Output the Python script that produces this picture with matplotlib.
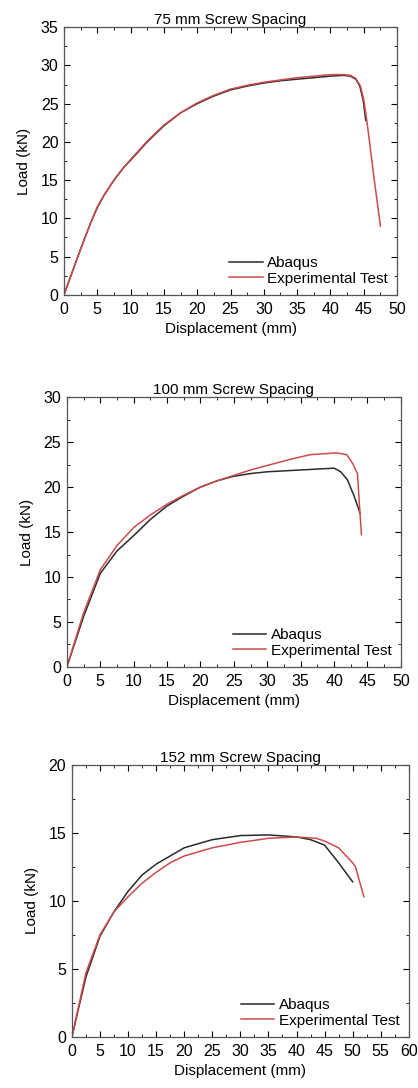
import matplotlib
matplotlib.use("Agg")
import matplotlib.pyplot as plt
from matplotlib.ticker import MultipleLocator

plt.rcParams["font.family"] = ["Liberation Sans", "DejaVu Sans"]

ABAQUS_COLOR = "#2a2a2a"
EXP_COLOR = "#cc4b4b"

# 75 mm screw spacing
abaqus_75_x = [0, 1, 2.5, 4, 5, 6, 7.5, 9, 10, 12.5, 15, 17.5, 20, 22.5, 25, 27.5, 30, 32.5, 35, 37.5,
               40, 42, 43, 43.8, 44.4, 44.9, 45.3]
abaqus_75_y = [0, 2.4, 6.0, 9.4, 11.4, 13.0, 15.0, 16.7, 17.6, 20.0, 22.1, 23.8, 25.0, 26.0, 26.8, 27.3,
               27.7, 28.0, 28.2, 28.4, 28.6, 28.7, 28.6, 28.2, 27.3, 25.5, 22.8]
exp_75_x = [0, 1, 2.5, 4, 5, 6, 7.5, 9, 10, 12.5, 15, 17.5, 20, 22.5, 25, 27.5, 30, 32.5, 35, 37.5,
            40, 42, 43, 43.8, 44.5, 45, 45.5, 46.5, 47.5]
exp_75_y = [0, 2.4, 6.0, 9.4, 11.5, 13.0, 15.0, 16.7, 17.7, 20.1, 22.2, 23.8, 25.1, 26.1, 26.9, 27.4,
            27.8, 28.1, 28.4, 28.6, 28.8, 28.8, 28.7, 28.3, 27.3, 25.5, 22.5, 15.5, 9.0]

# 100 mm screw spacing
abaqus_100_x = [0, 2.5, 5, 7.5, 10, 12.5, 15, 17.5, 20, 22.5, 25, 27.5, 30, 35, 40, 41, 42, 43, 43.9]
abaqus_100_y = [0, 5.6, 10.4, 12.9, 14.6, 16.4, 17.9, 19.0, 20.0, 20.7, 21.2, 21.5, 21.7, 21.9, 22.1,
                21.7, 20.8, 19.0, 17.1]
exp_100_x = [0, 2.5, 5, 7.5, 10, 12.5, 15, 17.5, 20, 22.5, 25, 27.5, 30, 33, 36.4, 40.4, 41.9, 42.8,
             43.5, 43.8, 44.1]
exp_100_y = [0, 6.0, 10.8, 13.5, 15.5, 16.9, 18.1, 19.1, 20.0, 20.7, 21.3, 21.9, 22.4, 23.0, 23.6, 23.8,
             23.6, 22.6, 21.5, 18.0, 14.7]

# 152 mm screw spacing
abaqus_152_x = [0, 2.5, 5, 7.5, 10, 12.5, 15, 17.5, 20, 22.5, 25, 30, 35, 40, 42.5, 45, 47.5, 50]
abaqus_152_y = [0, 4.4, 7.4, 9.2, 10.7, 11.9, 12.7, 13.3, 13.9, 14.2, 14.5, 14.8, 14.85, 14.7, 14.5,
                14.1, 12.8, 11.4]
exp_152_x = [0, 2.5, 5, 7.5, 10, 12.5, 15, 17.5, 20, 22.5, 25, 30, 35, 40, 43.5, 45, 47.5, 50, 50.5, 52]
exp_152_y = [0, 4.7, 7.5, 9.2, 10.3, 11.3, 12.1, 12.8, 13.3, 13.6, 13.9, 14.3, 14.6, 14.7, 14.6, 14.4,
             13.9, 12.8, 12.5, 10.3]

panels = [
    ("75 mm Screw Spacing", abaqus_75_x, abaqus_75_y, exp_75_x, exp_75_y, 50, 35, 5,
     [0.153, 0.729, 0.797, 0.246]),
    ("100 mm Screw Spacing", abaqus_100_x, abaqus_100_y, exp_100_x, exp_100_y, 50, 30, 5,
     [0.160, 0.387, 0.799, 0.248]),
    ("152 mm Screw Spacing", abaqus_152_x, abaqus_152_y, exp_152_x, exp_152_y, 60, 20, 5,
     [0.172, 0.047, 0.806, 0.250]),
]

fig = plt.figure(figsize=(4.18, 10.88), dpi=100)

for title, ax_x, ax_y, ex_x, ex_y, xmax, ymax, ystep, rect in panels:
    ax = fig.add_axes(rect)
    ax.plot(ax_x, ax_y, color=ABAQUS_COLOR, lw=1.1, label="Abaqus")
    ax.plot(ex_x, ex_y, color=EXP_COLOR, lw=1.1, label="Experimental Test")
    ax.set_xlim(0, xmax)
    ax.set_ylim(0, ymax)
    ax.xaxis.set_major_locator(MultipleLocator(5))
    ax.xaxis.set_minor_locator(MultipleLocator(2.5))
    ax.yaxis.set_major_locator(MultipleLocator(ystep))
    ax.yaxis.set_minor_locator(MultipleLocator(ystep / 2))
    ax.tick_params(which="both", direction="in", top=True, right=True, labelsize=11.5)
    ax.tick_params(axis="x", pad=5)
    ax.tick_params(axis="y", pad=4)
    ax.tick_params(which="major", length=4, width=0.8)
    ax.tick_params(which="minor", length=2, width=0.6)
    for sp in ax.spines.values():
        sp.set_color("#555555")
        sp.set_linewidth(0.9)
    ax.set_title(title, fontsize=11, pad=1)
    ax.set_xlabel("Displacement (mm)", fontsize=11, labelpad=4)
    ax.set_ylabel("Load (kN)", fontsize=11, labelpad=7)
    ax.legend(loc="lower right", frameon=False, fontsize=11, handlelength=2.2,
              handletextpad=0.3, labelspacing=0.1, borderaxespad=0.2)

fig.savefig("out.png", dpi=100)
